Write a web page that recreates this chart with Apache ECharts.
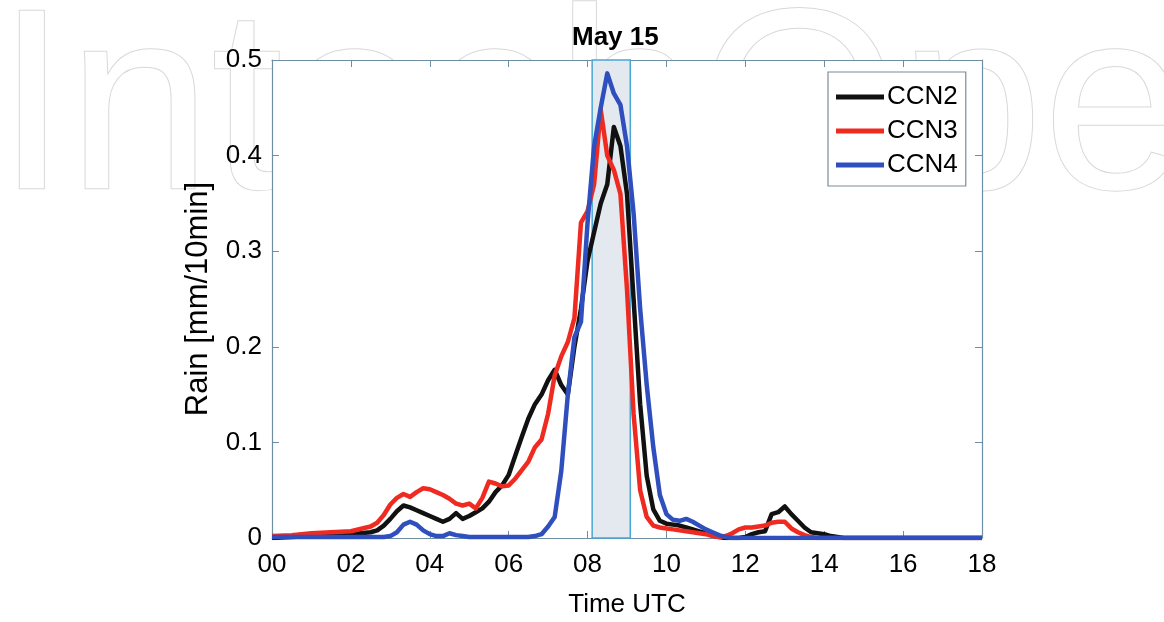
<!DOCTYPE html>
<html>
<head>
<meta charset="utf-8">
<title>May 15</title>
<script src="https://cdn.jsdelivr.net/npm/echarts@6/dist/echarts.min.js"></script>
<style>
  html, body { margin: 0; padding: 0; background: #fff; }
  #chart { width: 1164px; height: 622px; }
</style>
</head>
<body>
<div id="chart"></div>
<script>
// time in minutes after 00 UTC
const times = [0, 30, 60, 90, 120, 150, 160, 170, 180, 190, 200, 210, 220, 230, 240, 250, 260, 270, 280, 290,
  300, 310, 320, 330, 340, 350, 360, 370, 380, 390, 400, 410, 420, 430, 440, 450, 460, 470, 480, 490,
  500, 510, 520, 530, 540, 550, 560, 570, 580, 590, 600, 610, 620, 630, 640, 650, 660, 670, 680, 690,
  700, 710, 720, 730, 740, 750, 760, 770, 780, 790, 800, 810, 820, 830, 840, 850, 860, 870, 900, 960, 1020, 1080]

const ccn2 = [0.000, 0.001, 0.002, 0.003, 0.004, 0.006, 0.008, 0.013, 0.020, 0.028, 0.034, 0.032, 0.029, 0.026, 0.023, 0.020, 0.017, 0.020, 0.026, 0.020,
  0.023, 0.027, 0.031, 0.038, 0.048, 0.055, 0.066, 0.086, 0.106, 0.125, 0.140, 0.150, 0.165, 0.176, 0.160, 0.150, 0.200, 0.240, 0.290, 0.320,
  0.350, 0.370, 0.430, 0.410, 0.360, 0.250, 0.140, 0.065, 0.030, 0.018, 0.015, 0.014, 0.013, 0.011, 0.009, 0.007, 0.005, 0.003, 0.001, 0.000,
  0.000, 0.000, 0.001, 0.004, 0.006, 0.007, 0.025, 0.027, 0.033, 0.025, 0.018, 0.011, 0.006, 0.005, 0.004, 0.002, 0.001, 0.000, 0.000, 0.000, 0.000, 0.000]

const ccn3 = [0.002, 0.003, 0.005, 0.006, 0.007, 0.012, 0.016, 0.024, 0.035, 0.042, 0.046, 0.043, 0.048, 0.052, 0.051, 0.048, 0.045, 0.041, 0.036, 0.034,
  0.036, 0.031, 0.042, 0.059, 0.057, 0.054, 0.055, 0.062, 0.071, 0.080, 0.095, 0.103, 0.130, 0.170, 0.190, 0.205, 0.230, 0.330, 0.342, 0.370,
  0.448, 0.400, 0.385, 0.360, 0.260, 0.130, 0.050, 0.022, 0.013, 0.011, 0.010, 0.009, 0.008, 0.007, 0.006, 0.005, 0.004, 0.002, 0.001, 0.002,
  0.005, 0.009, 0.011, 0.011, 0.012, 0.013, 0.016, 0.017, 0.017, 0.010, 0.006, 0.003, 0.001, 0.000, 0.000, 0.000, 0.000, 0.000, 0.000, 0.000, 0.000, 0.000]

const ccn4 = [0.001, 0.001, 0.001, 0.001, 0.001, 0.001, 0.001, 0.001, 0.002, 0.006, 0.014, 0.017, 0.014, 0.008, 0.004, 0.002, 0.002, 0.005, 0.003, 0.002,
  0.001, 0.001, 0.001, 0.001, 0.001, 0.001, 0.001, 0.001, 0.001, 0.001, 0.002, 0.004, 0.012, 0.022, 0.070, 0.150, 0.210, 0.226, 0.330, 0.410,
  0.450, 0.486, 0.465, 0.453, 0.410, 0.340, 0.240, 0.160, 0.095, 0.045, 0.025, 0.019, 0.018, 0.020, 0.017, 0.013, 0.009, 0.006, 0.003, 0.001,
  0.000, 0.000, 0.000, 0.000, 0.000, 0.000, 0.000, 0.000, 0.000, 0.000, 0.000, 0.000, 0.000, 0.000, 0.000, 0.000, 0.000, 0.000, 0.000, 0.000, 0.000, 0.000]

const hourLabels = ['00', '02', '04', '06', '08', '10', '12', '14', '16', '18']
const shadedWindow = [487, 545] // minutes, the highlighted period

const font = 'Liberation Sans, Arial, Helvetica, sans-serif'
const axisColor = '#6e8fa3'

const chart = echarts.init(document.getElementById('chart'))

function lineSeries(name, values, color) {
  return {
    name: name,
    type: 'line',
    showSymbol: false,
    symbol: 'none',
    smooth: false,
    z: 3,
    data: times.map((t, i) => [t, values[i]]),
    lineStyle: { color: color, width: 4.5, join: 'round' },
    itemStyle: { color: color }
  }
}

const xBase = {
  type: 'value',
  min: 0,
  max: 1080,
  interval: 120,
  splitLine: { show: false },
  axisLine: { show: true, onZero: false, lineStyle: { color: axisColor, width: 1.2 } },
  axisTick: { show: true, inside: true, length: 7, lineStyle: { color: axisColor } }
}
const yBase = {
  type: 'value',
  min: 0,
  max: 0.5,
  interval: 0.1,
  splitLine: { show: false },
  axisLine: { show: true, onZero: false, lineStyle: { color: axisColor, width: 1.2 } },
  axisTick: { show: true, inside: true, length: 7, lineStyle: { color: axisColor } }
}

const option = {
  backgroundColor: '#fff',
  animation: false,
  graphic: [
    {
      type: 'text',
      z: -100,
      silent: true,
      style: {
        text: 'IntechOpen',
        x: -4,
        y: -12,
        font: '300 258px ' + font,
        fill: '#ffffff',
        stroke: '#d8d8d8',
        lineWidth: 2,
        verticalAlign: 'top'
      }
    }
  ],
  title: {
    text: 'May 15',
    left: 572,
    top: 25,
    padding: 0,
    textStyle: { fontFamily: font, fontSize: 26, fontWeight: 'bold', color: '#000' }
  },
  legend: {
    data: ['CCN2', 'CCN3', 'CCN4'],
    orient: 'vertical',
    left: 828,
    top: 72,
    padding: [12, 8, 8, 8],
    itemGap: 8,
    itemWidth: 48,
    itemHeight: 5,
    icon: 'rect',
    backgroundColor: '#fff',
    borderColor: '#7d8c96',
    borderWidth: 1.2,
    textStyle: { fontFamily: font, fontSize: 26, color: '#000', padding: [0, 0, 0, -2] }
  },
  grid: {
    left: 272,
    right: 182,
    top: 60,
    bottom: 84,
    outerBoundsMode: 'none',
    containLabel: false,
    show: true,
    backgroundColor: '#fff',
    borderWidth: 0
  },
  xAxis: [
    Object.assign({}, xBase, {
      position: 'bottom',
      name: 'Time UTC',
      nameLocation: 'middle',
      nameGap: 54,
      nameTextStyle: { fontFamily: font, fontSize: 26, color: '#000' },
      axisLabel: {
        margin: 14,
        fontFamily: font,
        fontSize: 26,
        color: '#000',
        formatter: v => hourLabels[Math.round(v / 120)]
      }
    }),
    Object.assign({}, xBase, { position: 'top', axisLabel: { show: false } })
  ],
  yAxis: [
    Object.assign({}, yBase, {
      position: 'left',
      name: 'Rain [mm/10min]',
      nameLocation: 'middle',
      nameRotate: 90,
      nameGap: 58,
      nameTextStyle: { fontFamily: font, fontSize: 31, color: '#000' },
      axisLabel: { margin: 10, fontFamily: font, fontSize: 26, color: '#000' }
    }),
    Object.assign({}, yBase, { position: 'right', axisLabel: { show: false } })
  ],
  series: [
    {
      name: 'window',
      type: 'line',
      data: [],
      z: 1,
      markArea: {
        silent: true,
        itemStyle: { color: '#e3e9ee', borderColor: '#4aa6d4', borderWidth: 1.5 },
        data: [[{ xAxis: shadedWindow[0] }, { xAxis: shadedWindow[1] }]]
      }
    },
    lineSeries('CCN2', ccn2, '#111111'),
    lineSeries('CCN3', ccn3, '#ef2b21'),
    lineSeries('CCN4', ccn4, '#2f4fbe')
  ]
}

chart.setOption(option)
</script>
</body>
</html>
